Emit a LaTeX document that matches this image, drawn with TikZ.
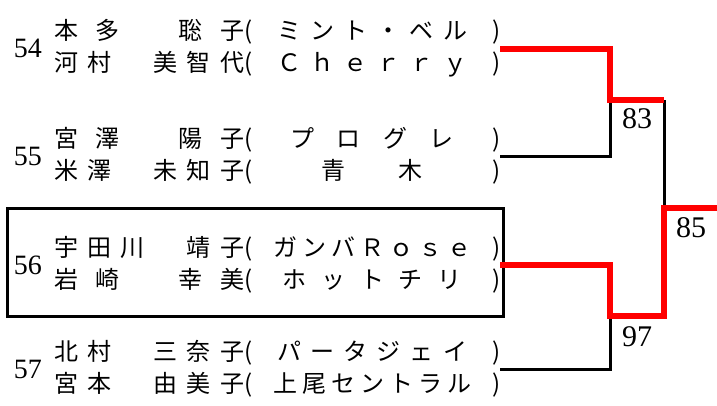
\documentclass[tikz,border=0pt]{standalone}
\usepackage{fontspec}
\usetikzlibrary{positioning}
\newfontfamily\jpfont{Noto Sans CJK JP}
\newfontfamily\numfont{Liberation Serif}
% spread the characters of a field over its width
\def\ktloop#1#2{#1\ifx\relax#2\else\hfill\expandafter\ktloop\fi#2}
\newcommand{\kintou}[2]{\makebox[#1][s]{\ktloop#2\relax}}
\newcommand{\op}{\makebox[24pt][l]{(}}
\newcommand{\cp}{\makebox[24pt][r]{)}}
\newcommand{\pair}[2]{\kintou{190pt}{#1}\kintou{256pt}{\op#2\cp}}

\begin{document}
\begin{tikzpicture}[x=1pt,y=-1pt,
  entry/.style={font=\jpfont\fontsize{24}{32}\selectfont, align=left, inner sep=0pt, anchor=west},
  num/.style={font=\numfont\fontsize{28}{30}\selectfont, inner sep=0pt},
  score/.style={font=\numfont\fontsize{30}{32}\selectfont, inner sep=0pt},
  lose/.style={black, line width=3pt},
  win/.style={red, line width=6pt},
  seedbox/.style={black, line width=3pt}]
  \useasboundingbox (0,0) rectangle (717,405);
  % entries
  \node[entry] (e54) at (54,48.5) {\pair{本多　聡子}{ミント・ベル}\\\pair{河村　美智代}{Ｃｈｅｒｒｙ}};
  \node[entry] (e55) at (54,156) {\pair{宮澤　陽子}{プログレ}\\\pair{米澤　未知子}{青木}};
  \node[entry] (e56) at (54,265) {\pair{宇田川　靖子}{ガンバＲｏｓｅ}\\\pair{岩崎　幸美}{ホットチリ}};
  \node[entry] (e57) at (54,369) {\pair{北村　三奈子}{パータジェイ}\\\pair{宮本　由美子}{上尾セントラル}};
  \node[num, left=12pt of e54] (n54) {54};
  \node[num, left=12pt of e55] (n55) {55};
  \node[num, left=12pt of e56] (n56) {56};
  \node[num, left=12pt of e57] (n57) {57};
  \draw[seedbox] (7,208) rectangle (503,316);
  % bracket
  \coordinate (m83) at (610,100);
  \coordinate (m97) at (610,316);
  \coordinate (m85) at (664,208);
  \coordinate (out) at (717,208);
  \draw[lose] (e55.east) -| (m83);
  \draw[lose] (e57.east) -| (m97);
  \draw[lose] (m83 -| m85) -- (m85);
  \draw[win] (e54.east) -| (m83) -- (m83 -| m85);
  \draw[win] (e56.east) -| (m97) -- (m97 -| m85) -- (m85) -- (out);
  \node[score, below right=8pt and 12pt of m83] (s83) {83};
  \node[score, below right=10pt and 12pt of m97] (s97) {97};
  \node[score, below right=9pt and 12pt of m85] (s85) {85};
\end{tikzpicture}
\end{document}
